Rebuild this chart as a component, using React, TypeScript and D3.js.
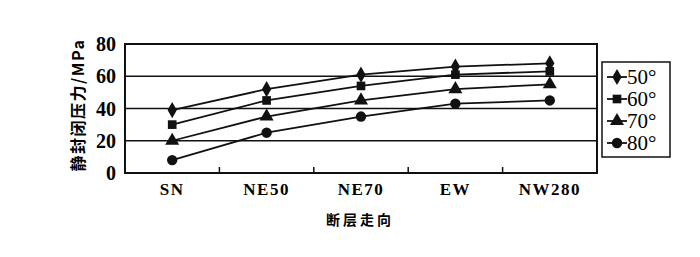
import * as d3 from "d3";
import React, { useEffect, useRef } from "react";

const categories = ["SN", "NE50", "NE70", "EW", "NW280"];
const yTicks = [0, 20, 40, 60, 80];
const seriesNames = ["50°", "60°", "70°", "80°"];
const s50 = [39, 52, 61, 66, 68];
const s60 = [30, 45, 54, 61, 63];
const s70 = [20, 35, 45, 52, 55];
const s80 = [8, 25, 35, 43, 45];
const seriesValues = [s50, s60, s70, s80];
const symbols = [d3.symbolDiamond, d3.symbolSquare, d3.symbolTriangle, d3.symbolCircle];
const symbolSizes = [75, 75, 85, 85];

export default function App() {
  const ref = useRef<SVGSVGElement>(null);

  useEffect(() => {
    const svg = d3.select(ref.current);
    svg.selectAll("*").remove();

    const left = 125, right = 597, top = 44, bottom = 173;

    const x = d3.scaleBand().domain(categories).range([left, right]);
    const y = d3.scaleLinear().domain([0, 80]).range([bottom, top]);

    // gridlines
    svg.append("g")
      .selectAll("line")
      .data(yTicks.filter(t => t > 0 && t < 80))
      .join("line")
      .attr("x1", left).attr("x2", right)
      .attr("y1", d => y(d)).attr("y2", d => y(d))
      .attr("stroke", "#111").attr("stroke-width", 1.5);

    // frame
    svg.append("rect")
      .attr("x", left).attr("y", top)
      .attr("width", right - left).attr("height", bottom - top)
      .attr("fill", "none").attr("stroke", "#111").attr("stroke-width", 2);

    // category ticks
    svg.append("g")
      .selectAll("line")
      .data(categories.slice(1))
      .join("line")
      .attr("x1", d => x(d)!).attr("x2", d => x(d)!)
      .attr("y1", bottom).attr("y2", bottom - 6)
      .attr("stroke", "#111").attr("stroke-width", 1.5);

    // y tick labels
    svg.append("g")
      .selectAll("text")
      .data(yTicks)
      .join("text")
      .attr("x", 116).attr("y", d => y(d))
      .attr("dy", "0.35em")
      .attr("text-anchor", "end")
      .attr("font-family", "Liberation Serif")
      .attr("font-weight", "bold")
      .attr("font-size", 20)
      .text(d => d);

    // x labels
    svg.append("g")
      .selectAll("text")
      .data(categories)
      .join("text")
      .attr("x", d => x(d)! + x.bandwidth() / 2)
      .attr("y", 195)
      .attr("text-anchor", "middle")
      .attr("font-family", "Liberation Serif")
      .attr("font-weight", "bold")
      .attr("font-size", 17)
      .attr("letter-spacing", 1.5)
      .text(d => d);

    // axis titles
    svg.append("text")
      .attr("x", 360).attr("y", 225)
      .attr("text-anchor", "middle")
      .attr("font-family", "Noto Sans CJK SC")
      .attr("font-weight", "bold")
      .attr("font-size", 14)
      .attr("letter-spacing", 3)
      .text("断层走向");

    svg.append("text")
      .attr("transform", "translate(84,105) rotate(-90)")
      .attr("text-anchor", "middle")
      .attr("font-family", "Noto Sans CJK SC")
      .attr("font-weight", "bold")
      .attr("font-size", 16)
      .attr("letter-spacing", 1.5)
      .text("静封闭压力/MPa");

    const line = d3.line<number>()
      .x((_, i) => x(categories[i])! + x.bandwidth() / 2)
      .y(d => y(d));

    seriesValues.forEach((vals, k) => {
      const g = svg.append("g");
      g.append("path")
        .attr("d", line(vals))
        .attr("fill", "none")
        .attr("stroke", "#111")
        .attr("stroke-width", 1.8);
      g.selectAll("path.m")
        .data(vals)
        .join("path")
        .attr("class", "m")
        .attr("transform", (d, i) => `translate(${x(categories[i])! + x.bandwidth() / 2},${y(d)})`)
        .attr("d", d3.symbol().type(symbols[k]).size(symbolSizes[k])())
        .attr("fill", "#111");
    });

    // legend
    const lx = 602, ly = 62;
    svg.append("rect")
      .attr("x", lx).attr("y", ly)
      .attr("width", 68).attr("height", 95)
      .attr("fill", "#fff").attr("stroke", "#111").attr("stroke-width", 1.5);

    const legend = svg.append("g")
      .selectAll("g")
      .data(seriesNames)
      .join("g")
      .attr("transform", (_, i) => `translate(${lx},${ly + 15 + i * 22})`);
    legend.append("line")
      .attr("x1", 5).attr("x2", 25)
      .attr("stroke", "#111").attr("stroke-width", 1.8);
    legend.append("path")
      .attr("transform", "translate(15,0)")
      .attr("d", (_, i) => d3.symbol().type(symbols[i]).size(symbolSizes[i])()!)
      .attr("fill", "#111");
    legend.append("text")
      .attr("x", 25).attr("dy", "0.35em")
      .attr("font-family", "Liberation Serif")
      .attr("font-size", 21)
      .text(d => d);
  }, []);

  return (
    <svg ref={ref} width={700} height={257} style={{ position: "absolute", left: 0, top: 0, background: "#fff" }} />
  );
}
